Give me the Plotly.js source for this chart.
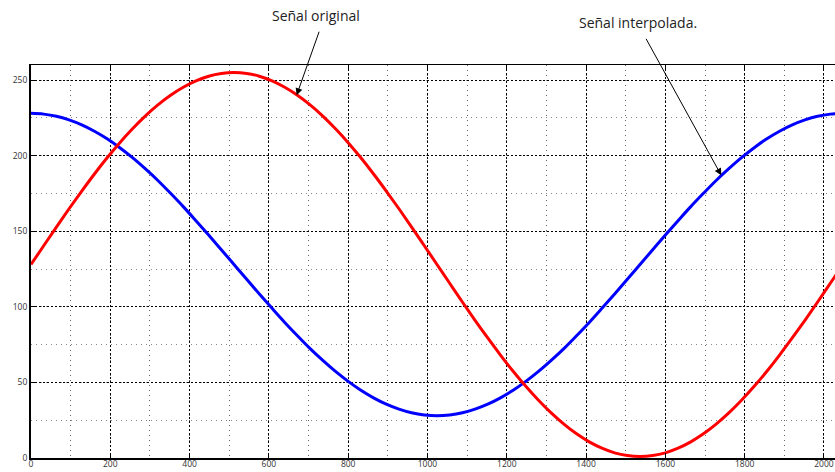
<!DOCTYPE html>
<html><head><meta charset="utf-8">
<script src="https://cdn.plot.ly/plotly-3.0.1.min.js"></script>
<style>html,body{margin:0;padding:0;overflow:hidden;background:#fff;}#chart{width:850px;height:472px;}</style>
</head><body><div id="chart"></div>
<script>
// Sample positions (every 32 samples)
const samples = [0,32,64,96,128,160,192,224,256,288,320,352,384,416,448,480,512,544,576,608,640,672,704,736,768,800,832,864,896,928,960,992,1024,1056,1088,1120,1152,1184,1216,1248,1280,1312,1344,1376,1408,1440,1472,1504,1536,1568,1600,1632,1664,1696,1728,1760,1792,1824,1856,1888,1920,1952,1984,2016,2048];
// "Señal original" (red)
const original = [128,140.4,152.8,164.9,176.6,187.9,198.6,208.6,217.8,226.2,233.6,240.0,245.3,249.5,252.6,254.4,255,254.4,252.6,249.5,245.3,240.0,233.6,226.2,217.8,208.6,198.6,187.9,176.6,164.9,152.8,140.4,128,115.6,103.2,91.1,79.4,68.1,57.4,47.4,38.2,29.8,22.4,16.0,10.7,6.5,3.4,1.6,1.0,1.6,3.4,6.5,10.7,16.0,22.4,29.8,38.2,47.4,57.4,68.1,79.4,91.1,103.2,115.6,128];
// "Señal interpolada." (blue)
const interpolada = [228,227.5,226.1,223.7,220.4,216.2,211.2,205.3,198.7,191.4,183.6,175.1,166.3,157.0,147.5,137.8,128,118.2,108.5,99.0,89.7,80.9,72.4,64.6,57.3,50.7,44.8,39.8,35.6,32.3,29.9,28.5,28,28.5,29.9,32.3,35.6,39.8,44.8,50.7,57.3,64.6,72.4,80.9,89.7,99.0,108.5,118.2,128,137.8,147.5,157.0,166.3,175.1,183.6,191.4,198.7,205.3,211.2,216.2,220.4,223.7,226.1,227.5,228];
const xTicks = [0,200,400,600,800,1000,1200,1400,1600,1800,2000];
const yTicks = [0,50,100,150,200,250];
const labelOriginal = 'Señal original';
const labelInterp = 'Señal interpolada.';

const tickFont = {family:'Open Sans, Liberation Sans, sans-serif', size:8.5, color:'#333'};
const noteFont = {family:'Open Sans, sans-serif', size:14, color:'#222'};
const traces = [
  {x:samples, y:interpolada, type:'scatter', mode:'lines', line:{color:'#0000ff', width:3, shape:'spline'}, hoverinfo:'skip'},
  {x:samples, y:original, type:'scatter', mode:'lines', line:{color:'#ff0000', width:3, shape:'spline'}, hoverinfo:'skip'},
  {x:[0], y:[0], xaxis:'x2', type:'scatter', mode:'markers', marker:{opacity:0}, hoverinfo:'skip'}
];
const layout = {
  width:850, height:472,
  margin:{l:31, r:7, t:65, b:14},
  paper_bgcolor:'#fff', plot_bgcolor:'#fff',
  showlegend:false,
  xaxis:{range:[0,2048], tickvals:xTicks, ticktext:xTicks.map(String), showline:true, linewidth:2, linecolor:'#000',
    ticks:'inside', ticklen:5, tickwidth:1, tickcolor:'#000', tickfont:tickFont, automargin:false, zeroline:false,
    ticklabelstandoff:-3,
    showgrid:true, gridcolor:'#000', gridwidth:1, griddash:'2px,2px',
    minor:{dtick:100, tick0:0, showgrid:true, gridcolor:'#666', gridwidth:1, griddash:'1px,4px', ticks:''}},
  xaxis2:{overlaying:'x', side:'top', matches:'x', range:[0,2048], tickvals:xTicks, showticklabels:false, showline:true, linewidth:1, linecolor:'#000',
    ticks:'inside', ticklen:5, tickwidth:1, tickcolor:'#000', showgrid:false, zeroline:false, automargin:false},
  yaxis:{range:[0,260], tickvals:yTicks, ticktext:yTicks.map(String), showline:true, linewidth:2, linecolor:'#000',
    ticks:'inside', ticklen:5, tickwidth:1, tickcolor:'#000', tickfont:tickFont, automargin:false, zeroline:false,
    showgrid:true, gridcolor:'#000', gridwidth:1, griddash:'2px,2px',
    minor:{dtick:25, tick0:0, showgrid:true, gridcolor:'#888', gridwidth:1, griddash:'1px,4px', ticks:''}},
  annotations:[
    {x:0.351, y:1.125, xref:'paper', yref:'paper', xanchor:'center', yanchor:'middle', text:labelOriginal, showarrow:false, font:noteFont},
    {x:0.7475, y:1.107, xref:'paper', yref:'paper', xanchor:'center', yanchor:'middle', text:labelInterp, showarrow:false, font:noteFont},
    {x:670, y:240, xref:'x', yref:'y', text:'', showarrow:true, ax:23, ay:-65, arrowhead:2, arrowsize:1.4, arrowwidth:1, arrowcolor:'#000'},
    {x:1741, y:187, xref:'x', yref:'y', text:'', showarrow:true, ax:-76, ay:-138, arrowhead:2, arrowsize:1.4, arrowwidth:1, arrowcolor:'#000'}
  ]
};
Plotly.newPlot('chart', traces, layout, {staticPlot:true, displayModeBar:false});
</script></body></html>
